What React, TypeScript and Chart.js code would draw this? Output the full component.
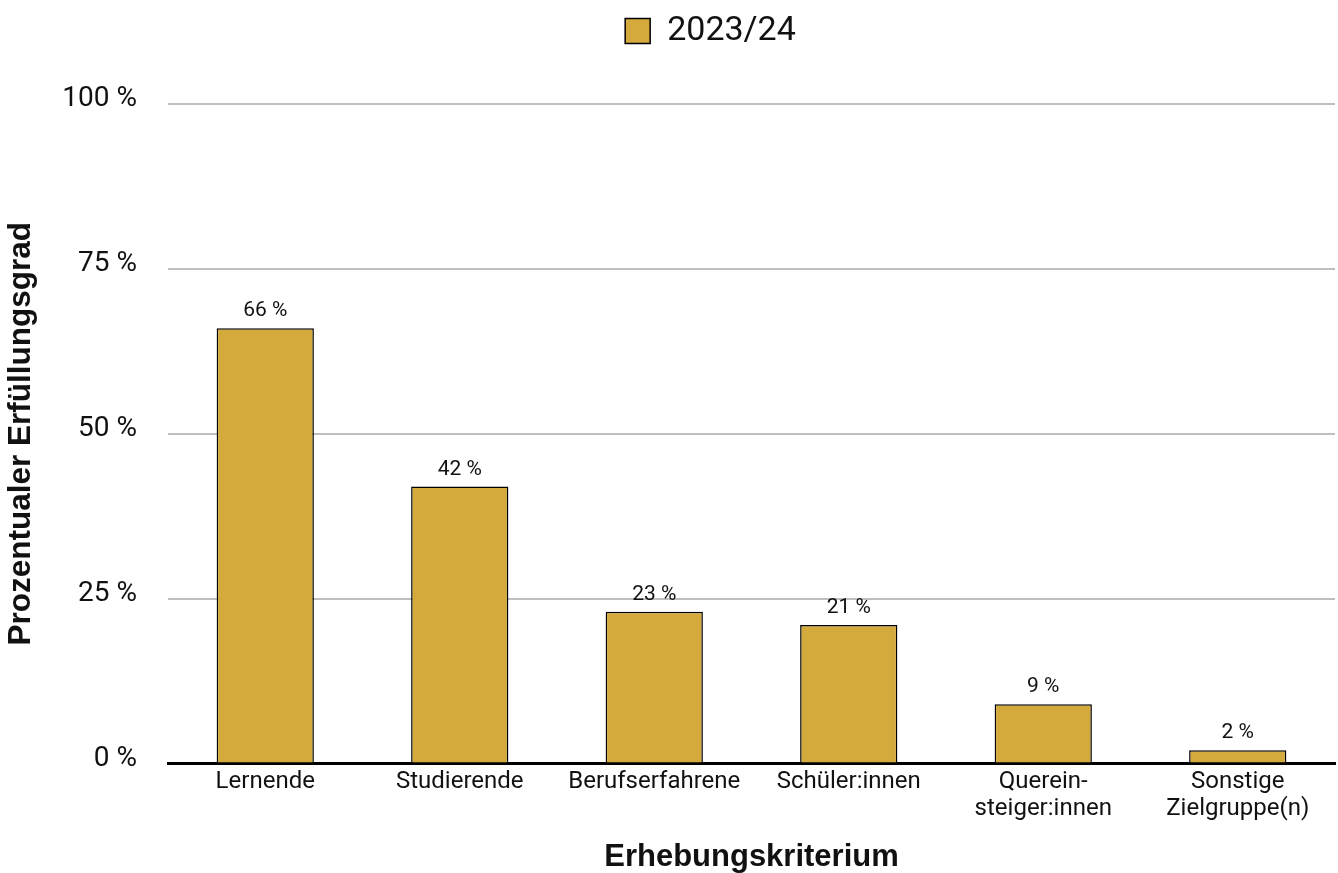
import React, { useEffect, useRef } from "react";
import { Chart, registerables } from "chart.js";

Chart.register(...registerables);

const categories: (string | string[])[] = [
  "Lernende",
  "Studierende",
  "Berufserfahrene",
  "Schüler:innen",
  ["Querein-", "steiger:innen"],
  ["Sonstige", "Zielgruppe(n)"],
];
const seriesLabel = "2023/24";
const values = [66, 42, 23, 21, 9, 2];
const yTicks = [0, 25, 50, 75, 100];
const xTitle = "Erhebungskriterium";
const yTitle = "Prozentualer Erfüllungsgrad";

const GOLD = "#D4AA3D";
const TEXT = "#111111";

const dataLabelPlugin = {
  id: "dataLabels",
  afterDatasetsDraw(chart: any) {
    const ctx = chart.ctx;
    const meta = chart.getDatasetMeta(0);
    ctx.save();
    ctx.font = "21px Roboto";
    ctx.fillStyle = TEXT;
    ctx.textAlign = "center";
    ctx.textBaseline = "alphabetic";
    meta.data.forEach((el: any, i: number) => {
      const v = chart.data.datasets[0].data[i];
      ctx.fillText(`${v} %`, el.x, el.y - 12);
    });
    ctx.restore();
  },
};

const legendPlugin = {
  id: "legendAdjust",
  beforeLayout(chart: any) {
    const lg = chart.legend;
    if (lg && !lg.__patched) {
      const orig = lg.fit;
      lg.fit = function () {
        orig.call(this);
        this.height += 46;
      };
      lg.__patched = true;
    }
  },
  afterLayout(chart: any) {
    const lg = chart.legend;
    if (lg) {
      lg.left += 43;
      lg.right += 43;
    }
  },
};

export default function App() {
  const ref = useRef<HTMLCanvasElement | null>(null);
  useEffect(() => {
    if (!ref.current) return;
    const chart = new Chart(ref.current, {
      type: "bar",
      data: {
        labels: categories,
        datasets: [
          {
            label: seriesLabel,
            data: values,
            backgroundColor: GOLD,
            borderColor: "#000000",
            borderWidth: 1.5,
            barPercentage: 0.5,
            categoryPercentage: 1.0,
          },
        ],
      },
      options: {
        animation: false,
        responsive: false,
        events: [],
        layout: { padding: { left: 0, right: 3, top: 0, bottom: 0 } },
        plugins: {
          legend: {
            display: true,
            position: "top",
            labels: {
              boxWidth: 25,
              boxHeight: 25,
              color: TEXT,
              font: { family: "Roboto", size: 34 },
              padding: 14,
            },
          },
          tooltip: { enabled: false },
        },
        scales: {
          x: {
            grid: { display: false, drawTicks: false },
            border: { display: true, color: "#000000", width: 3 },
            afterFit(scale: any) {
              scale.paddingLeft = 0;
              scale.paddingRight = 0;
              scale.height = 109.5;
            },
            ticks: {
              color: TEXT,
              font: { family: "Roboto", size: 24, lineHeight: 1.12 },
              padding: 5,
              maxRotation: 0,
              autoSkip: false,
            },
            title: {
              display: true,
              text: xTitle,
              color: TEXT,
              font: { family: "Liberation Sans", size: 31, weight: "bold", lineHeight: 1 },
              padding: { top: 0, bottom: 0 },
            },
          },
          y: {
            min: 0,
            max: 100,
            afterBuildTicks(axis: any) {
              axis.ticks = yTicks.map((v) => ({ value: v }));
            },
            afterFit(scale: any) {
              scale.width = 168;
            },
            grid: { color: "#BFBFBF", lineWidth: 2, drawTicks: false },
            border: { display: false },
            ticks: {
              color: TEXT,
              font: { family: "Roboto", size: 28 },
              padding: 31,
              labelOffset: -5,
              callback: (v: any) => `${v} %`,
            },
            title: {
              display: true,
              text: yTitle,
              color: TEXT,
              font: { family: "Liberation Sans", size: 31.5, weight: "bold", lineHeight: 1 },
              padding: { top: 6, bottom: 0 },
            },
          },
        },
      },
      plugins: [dataLabelPlugin, legendPlugin],
    });
    return () => chart.destroy();
  }, []);
  return (
    <div style={{ position: "absolute", left: 0, top: 0, width: 1338, height: 873, background: "#fff" }}>
      <canvas ref={ref} width={1338} height={873} />
    </div>
  );
}
